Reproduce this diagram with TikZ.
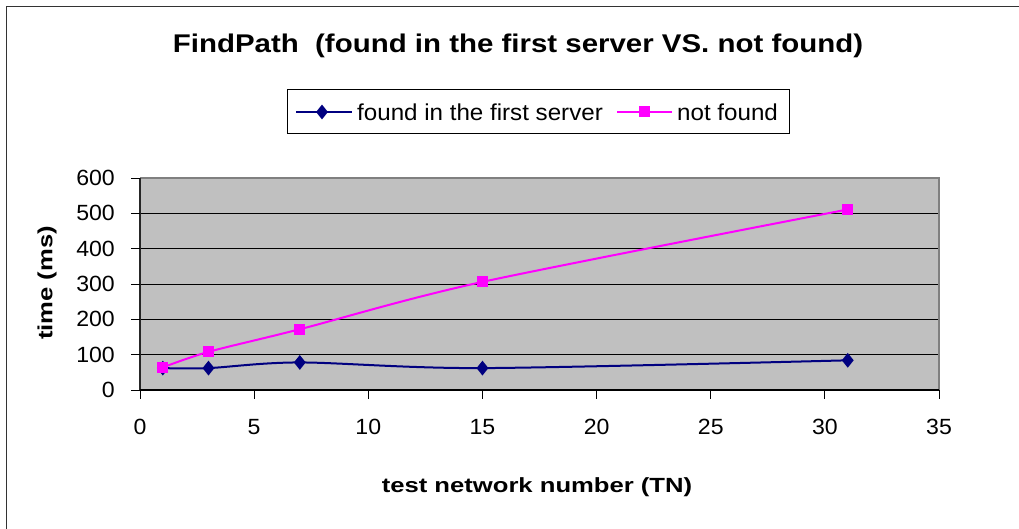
\documentclass[tikz,border=0pt]{standalone}
\usepackage{fontspec}
\setmainfont{Liberation Sans}
\usetikzlibrary{shapes.geometric}

\definecolor{plotgray}{HTML}{C0C0C0}
\definecolor{bordergray}{HTML}{808080}
\definecolor{navyline}{HTML}{000080}
\definecolor{pinkline}{HTML}{FF00FF}

\begin{document}
\begin{tikzpicture}[x=1pt,y=-1pt,
  ticklabel/.style={inner sep=0pt, font=\fontsize{22}{26}\selectfont},
  legendtext/.style={inner sep=0pt, anchor=west, font=\fontsize{23}{27}\selectfont},
  axistitle/.style={inner sep=0pt, font=\bfseries\fontsize{20.5}{25}\selectfont},
  foundline/.style={draw=navyline, line width=2pt, line join=round},
  notfoundline/.style={draw=pinkline, line width=2pt, line join=round},
  foundmark/.style={diamond, fill=navyline, inner sep=0pt, minimum width=12pt, minimum height=15pt},
  notfoundmark/.style={rectangle, fill=pinkline, inner sep=0pt, minimum size=11pt},
  gridline/.style={draw=black, line width=1pt},
  ]
\useasboundingbox (0,0) rectangle (1019,529);
\fill[white] (0,0) rectangle (1019,529);

% chart frame
\draw[line width=1.6pt, black!80] (6.5,545) -- (6.5,6.5) -- (1030,6.5);

% title
\node[inner sep=0pt, font=\bfseries\fontsize{25.6}{30}\selectfont] (title) at (518,46)
  {\scalebox{1.15}[1]{FindPath\ \ (found in the first server VS.\ not found)}};

% legend
\draw[line width=1pt] (287,90) rectangle (789,134);
\coordinate (lfa) at (296,112);
\coordinate (lfb) at (352,112);
\coordinate (lna) at (617,112);
\coordinate (lnb) at (672,112);
\draw[foundline] (lfa) -- (lfb);
\node[foundmark] (lfm) at (322,112) {};
\node[legendtext] (lft) at (357,112) {\scalebox{1.05}[1]{found in the first server}};
\draw[notfoundline] (lna) -- (lnb);
\node[notfoundmark] (lnm) at (644,112) {};
\node[legendtext] (lnt) at (677,112) {\scalebox{1.05}[1]{not found}};

% plot area in data coordinates
\begin{scope}[shift={(140,390)}, x=22.83pt, y=0.3533pt]
  \fill[plotgray] (0,0) rectangle (35,600);
  \foreach \v in {100,200,...,500}
    \draw[gridline] (0,\v) -- (35,\v);
  \draw[bordergray, line width=1.5pt] (0,600) -- (35,600) -- (35,0);
  % axes and ticks
  \draw[black!85, line width=1.3pt] (0,0) -- (0,600);
  \draw[black, line width=1.3pt] (0,0) -- (35,0);
  \foreach \v in {0,100,...,600} {
    \draw[black, line width=1pt] (0,\v) -- ++(-9pt,0);
    \node[ticklabel, anchor=east] (yl\v) at ([xshift=-25pt]0,\v) {\scalebox{1.05}[1]{\v}};
  }
  \foreach \u in {0,5,...,35} {
    \draw[black, line width=1pt] (\u,0) -- ++(0,-9pt);
    \node[ticklabel] (xl\u) at ([yshift=-37pt]\u,0) {\scalebox{1.05}[1]{\u}};
  }

  % data points
  \coordinate (f1) at (1,62);
  \coordinate (f3) at (3,62);
  \coordinate (f7) at (7,78);
  \coordinate (f15) at (15,62);
  \coordinate (f31) at (31,84);
  \coordinate (n1) at (1,64);
  \coordinate (n3) at (3,108);
  \coordinate (n7) at (7,172);
  \coordinate (n15) at (15,306);
  \coordinate (n31) at (31,511);

  \draw[foundline] plot[smooth, tension=0.5] coordinates {(f1) (f3) (f7) (f15) (f31)};
  \draw[notfoundline] plot[smooth, tension=0.5] coordinates {(n1) (n3) (n7) (n15) (n31)};

  \foreach \p in {f1,f3,f7,f15,f31}
    \node[foundmark] (m\p) at (\p) {};
  \foreach \p in {n1,n3,n7,n15,n31}
    \node[notfoundmark] (m\p) at (\p) {};
\end{scope}

% axis titles
\node[axistitle, rotate=90] (ytitle) at (47,283) {\scalebox{1.25}[1]{time (ms)}};
\node[axistitle] (xtitle) at (537,487) {\scalebox{1.25}[1]{test network number (TN)}};
\end{tikzpicture}
\end{document}
